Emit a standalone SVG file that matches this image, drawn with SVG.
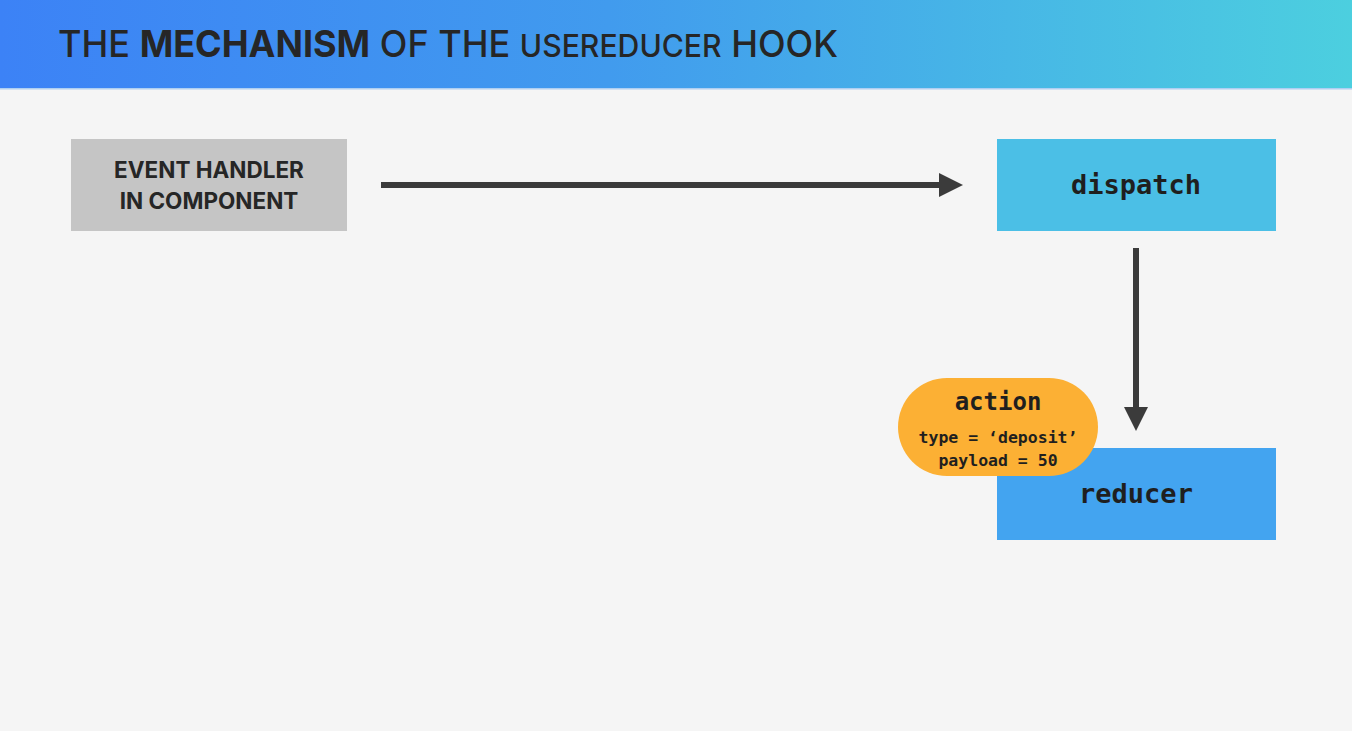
<svg xmlns="http://www.w3.org/2000/svg" width="1352" height="731" viewBox="0 0 1352 731">
<defs>
<linearGradient id="hdr" x1="0" y1="0" x2="1" y2="0">
<stop offset="0" stop-color="#3c82f6"/>
<stop offset="0.45" stop-color="#419bee"/>
<stop offset="1" stop-color="#4ccfdf"/>
</linearGradient>
<marker id="ah" viewBox="0 0 10 10" refX="0" refY="5" markerWidth="4" markerHeight="4" markerUnits="strokeWidth" orient="auto">
<path d="M0,0 L10,5 L0,10 z" fill="#3b3b3b"/>
</marker>
<style>
.mono{font-family:"DejaVu Sans Mono","Liberation Mono",monospace;font-weight:bold;fill:#1f1f1f;text-anchor:middle}
.sans{font-family:Inter,"Liberation Sans",sans-serif;fill:#262626}
.conn{stroke:#3b3b3b;stroke-width:6;fill:none}
</style>
</defs>
<rect width="1352" height="731" fill="#f5f5f5"/>
<rect width="1352" height="88" fill="url(#hdr)"/>
<rect y="88" width="1352" height="1.5" fill="#7fb6f0" opacity="0.6"/>
<text class="sans" x="58" y="57" font-size="37" font-weight="500" textLength="780" lengthAdjust="spacingAndGlyphs">THE <tspan font-weight="bold">MECHANISM</tspan> OF THE <tspan font-size="31">USEREDUCER</tspan> HOOK</text>
<g id="connectors">
<line class="conn" x1="381" y1="185" x2="939" y2="185" marker-end="url(#ah)"/>
<line class="conn" x1="1136" y1="248" x2="1136" y2="407" marker-end="url(#ah)"/>
</g>
<g id="event-handler">
<rect x="71" y="139" width="276" height="92" fill="#c5c5c5"/>
<text class="sans" x="209" y="178" font-size="22.5" font-weight="bold" text-anchor="middle">EVENT HANDLER</text>
<text class="sans" x="209" y="209" font-size="22.5" font-weight="bold" text-anchor="middle">IN COMPONENT</text>
</g>
<g id="dispatch">
<rect x="997" y="139" width="279" height="92" fill="#4bbfe6"/>
<text class="mono" x="1136" y="194" font-size="27">dispatch</text>
</g>
<g id="reducer">
<rect x="997" y="448" width="279" height="92" fill="#43a4f0"/>
<text class="mono" x="1136" y="503" font-size="27">reducer</text>
</g>
<g id="action">
<rect x="898" y="378" width="200" height="98" rx="49" ry="49" fill="#fcb034"/>
<text class="mono" x="998" y="410" font-size="24">action</text>
<text class="mono" x="998" y="443" font-size="16.5">type = ‘deposit’</text>
<text class="mono" x="998" y="466" font-size="16.5">payload = 50</text>
</g>
</svg>
